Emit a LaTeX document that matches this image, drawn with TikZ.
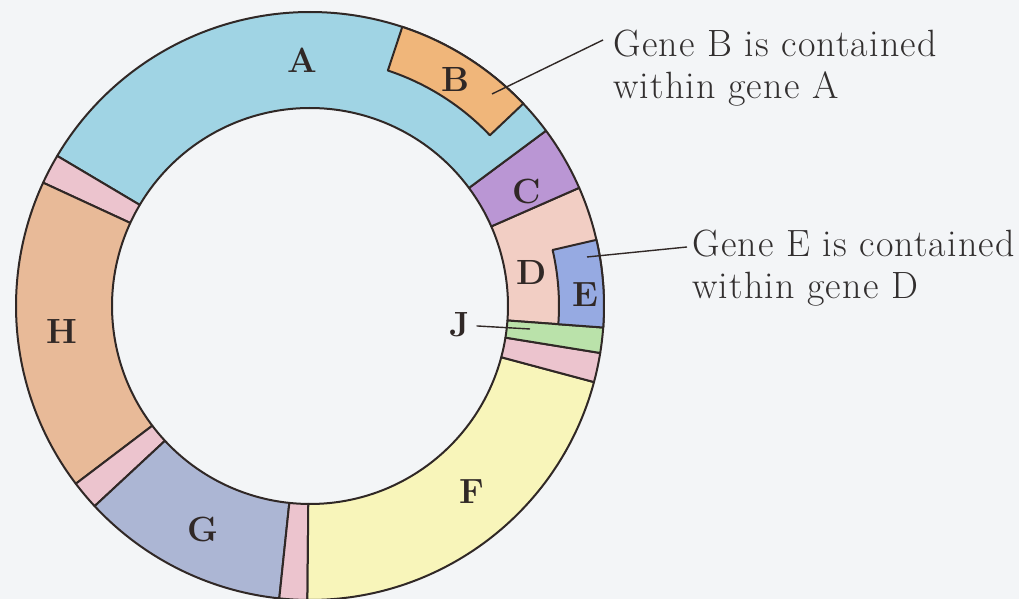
\documentclass[tikz,border=0pt]{standalone}
\usepackage{fontspec}
\setmainfont{Latin Modern Roman}
\newfontfamily\notefont[LetterSpace=3]{Latin Modern Roman}
\usetikzlibrary{calc}
\definecolor{bgc}{RGB}{243,245,247}
\definecolor{ln}{RGB}{48,40,38}
\definecolor{txt}{RGB}{50,47,47}
\definecolor{cA}{RGB}{160,212,228}
\definecolor{cB}{RGB}{240,182,122}
\definecolor{cC}{RGB}{186,150,212}
\definecolor{cD}{RGB}{242,206,196}
\definecolor{cE}{RGB}{150,170,226}
\definecolor{cP}{RGB}{236,196,206}
\definecolor{cH}{RGB}{232,186,152}
\definecolor{cG}{RGB}{172,182,212}
\definecolor{cF}{RGB}{248,245,186}
\definecolor{cJ}{RGB}{186,226,170}
\tikzset{
  seg/.style={draw=ln, line width=1pt, line join=round},
  lab/.style={font=\fontsize{17.5}{20}\selectfont\bfseries, text=ln, inner sep=0pt},
  note/.style={font=\notefont\fontsize{19}{21}\selectfont, text=txt, align=left, anchor=north west, inner sep=0pt},
  lead/.style={draw=ln, line width=0.7pt}
}
\newcommand\ringseg[3]{%
  \filldraw[seg, fill=#1] (#2:294) arc[start angle=#2, end angle=#3, radius=294]
    -- (#3:198) arc[start angle=#3, end angle=#2, radius=198] -- cycle;}
\newcommand\subseg[4]{%
  \filldraw[seg, fill=#1] (#2:294) arc[start angle=#2, end angle=#3, radius=294]
    -- (#3:#4) arc[start angle=#3, end angle=#2, radius=#4] -- cycle;}
\begin{document}
\begin{tikzpicture}[x=0.5pt, y=0.5pt]
\fill[bgc] (0,0) rectangle (1019,599);
\useasboundingbox (0,0) rectangle (1019,599);
\begin{scope}[shift={(310,293)}]
  \ringseg{cD}{-4.2}{23.7}
  \ringseg{cC}{23.7}{36.6}
  \ringseg{cA}{36.6}{149.3}
  \ringseg{cP}{149.3}{155.2}
  \ringseg{cH}{155.2}{217.2}
  \ringseg{cP}{217.2}{222.9}
  \ringseg{cG}{222.9}{264}
  \ringseg{cP}{264}{269.5}
  \ringseg{cF}{269.5}{345}
  \ringseg{cP}{345}{350.8}
  \ringseg{cJ}{350.8}{355.8}
  \subseg{cB}{43.5}{71.7}{248}
  \subseg{cE}{-4.2}{13}{249}
\end{scope}
\node[lab] (labA) at (302,539) {A};
\node[lab] (labB) at (455,519) {B};
\node[lab] (labC) at (527,407) {C};
\node[lab] (labD) at (532,326) {D};
\node[lab] (labE) at (585,304) {E};
\node[lab] (labH) at (62,267) {H};
\node[lab] (labG) at (203,69) {G};
\node[lab] (labF) at (472,107) {F};
\node[lab, inner sep=3pt] (labJ) at (460,274) {J};
\node[note] (noteB) at (613,569) {Gene B is contained\\within gene A};
\node[note] (noteE) at (692,369) {Gene E is contained\\within gene D};
\coordinate (bin) at (492,505);
\coordinate (bout) at (603,559);
\coordinate (ein) at (587,342);
\coordinate (eout) at (687,352);
\coordinate (jin) at (530,270);
\draw[lead] (bin) -- (bout);
\draw[lead] (ein) -- (eout);
\draw[lead] (labJ) -- (jin);
\end{tikzpicture}
\end{document}
